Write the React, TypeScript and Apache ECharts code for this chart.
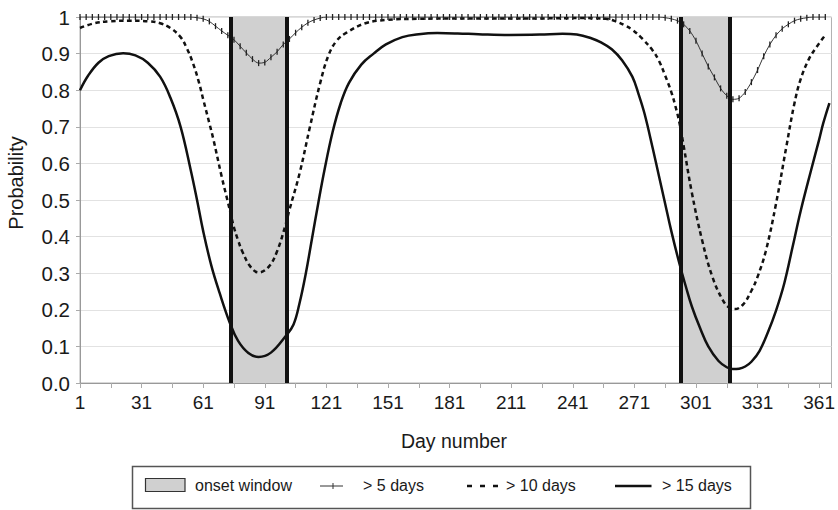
import React, { useEffect, useRef } from "react";
import * as echarts from "echarts";

// Onset windows (day ranges)
const onsetWindows: [number, number][] = [
  [74.5, 101.7],
  [293.7, 317.7],
];

// > 5 days: one value every 3 days starting at day 1
const gt5FirstDay = 1;
const gt5DayStep = 3;
const gt5Values = [
  1, 1, 1, 1, 1, 1, 1, 1, 1, 1, 1, 1, 1, 1, 1, 1, 1, 1, 1,
  0.998, 0.995, 0.988, 0.975, 0.962, 0.95, 0.938, 0.92, 0.902, 0.885, 0.874,
  0.876, 0.89, 0.905, 0.925, 0.94, 0.957, 0.972, 0.984, 0.992, 0.997,
  1, 1, 1, 1, 1, 1, 1, 1, 1, 1, 1, 1, 1, 1, 1, 1, 1, 1, 1, 1, 1, 1, 1, 1, 1,
  1, 1, 1, 1, 1, 1, 1, 1, 1, 1, 1, 1, 1, 1, 1, 1, 1, 1, 1, 1, 1, 1, 1, 1, 1,
  1, 1, 1, 1, 1,
  0.998, 0.995, 0.99, 0.98, 0.962, 0.935, 0.9, 0.865, 0.835, 0.805, 0.785,
  0.775, 0.778, 0.795, 0.822, 0.855, 0.893, 0.925, 0.95, 0.968, 0.98, 0.99,
  0.995, 0.998,
  1, 1, 1,
];

// > 10 days
const gt10Days = [
  1, 8, 15, 25, 35, 40, 45, 50, 53, 56, 59, 61, 64, 66, 70, 73, 76, 78, 80, 84,
  88, 93, 97, 101, 103, 108, 113, 118, 122, 126, 131, 140, 150, 165, 190, 220,
  245, 257, 262, 266, 270, 275, 280, 283, 286, 289, 291, 293, 295, 299, 304,
  309, 314, 317, 320, 324, 328, 331, 335, 340, 345, 349, 352, 356, 360, 364,
];
const gt10Values = [
  0.97, 0.983, 0.988, 0.99, 0.988, 0.983, 0.97, 0.945, 0.915, 0.874, 0.82,
  0.775, 0.71, 0.665, 0.564, 0.495, 0.425, 0.39, 0.36, 0.318, 0.302, 0.318,
  0.36, 0.43, 0.473, 0.574, 0.7, 0.82, 0.895, 0.935, 0.958, 0.983, 0.992,
  0.995, 0.996, 0.996, 0.997, 0.995, 0.988, 0.978, 0.965, 0.94, 0.908, 0.88,
  0.84, 0.795, 0.756, 0.71, 0.648, 0.52, 0.39, 0.29, 0.227, 0.207, 0.202,
  0.215, 0.252, 0.29, 0.36, 0.49, 0.645, 0.765, 0.83, 0.885, 0.92, 0.951,
];

// > 15 days
const gt15Days = [
  1, 5, 10, 15, 22, 28, 34, 40, 45, 50, 55, 58, 61, 65, 69, 74, 78, 83, 88, 94,
  101, 105, 108, 111, 114, 117, 120, 124, 128, 132, 138, 144, 150, 158, 166,
  175, 185, 195, 210, 225, 236, 243, 250, 255, 260, 265, 270, 273, 276, 280,
  283, 286, 289, 293, 296, 299, 303, 307, 312, 316, 319, 322, 325, 328, 332,
  336, 340, 344, 348, 352, 357, 361, 363, 366,
];
const gt15Values = [
  0.8, 0.84, 0.875, 0.893, 0.901, 0.895, 0.875, 0.837, 0.78, 0.7, 0.58, 0.5,
  0.415, 0.32, 0.246, 0.164, 0.115, 0.082, 0.071, 0.083, 0.127, 0.16, 0.22,
  0.3, 0.395, 0.49, 0.58, 0.685, 0.765, 0.82, 0.87, 0.9, 0.925, 0.945, 0.953,
  0.956, 0.955, 0.953, 0.951, 0.952, 0.954, 0.952, 0.942, 0.93, 0.912, 0.882,
  0.837, 0.79, 0.735, 0.64, 0.565, 0.49, 0.415, 0.325, 0.265, 0.209, 0.15,
  0.1, 0.06, 0.043, 0.038, 0.039, 0.045, 0.058, 0.088, 0.138, 0.198, 0.272,
  0.37, 0.47, 0.58, 0.665, 0.71, 0.765,
];

const yTickLabels = ["0.0", "0.1", "0.2", "0.3", "0.4", "0.5", "0.6", "0.7", "0.8", "0.9", "1"];
const xLabelDays = [1, 31, 61, 91, 121, 151, 181, 211, 241, 271, 301, 331, 361];

const FONT = '"Liberation Sans", Arial, Helvetica, sans-serif';

export default function App() {
  const ref = useRef<HTMLDivElement>(null);

  useEffect(() => {
    const chart = echarts.init(ref.current!, null, { renderer: "svg" });

    const gt5Data = gt5Values.map((v, i) => [gt5FirstDay + i * gt5DayStep, v]);
    const gt10Data = gt10Days.map((d, i) => [d, gt10Values[i]]);
    const gt15Data = gt15Days.map((d, i) => [d, gt15Values[i]]);

    const legendY = 485.5;
    const textStyle = (text: string, x: number) => ({
      type: "text",
      x,
      y: legendY,
      silent: true,
      style: {
        text,
        fill: "#1a1a1a",
        font: `16px ${FONT}`,
        align: "left",
        verticalAlign: "middle",
        textAlign: "left",
        textVerticalAlign: "middle",
      },
    });

    chart.setOption({
      animation: false,
      backgroundColor: "#ffffff",
      textStyle: { fontFamily: FONT },
      grid: {
        left: 80,
        right: 5,
        top: 17,
        bottom: 127,
        show: true,
        borderColor: "#b0b0b0",
        borderWidth: 1,
        backgroundColor: "transparent",
      },
      xAxis: {
        type: "value",
        min: 1,
        max: 367,
        interval: 15,
        axisLine: { show: true, lineStyle: { color: "#999", width: 1 } },
        axisTick: { show: true, length: 5, lineStyle: { color: "#aaa" } },
        splitLine: { show: false },
        axisLabel: {
          color: "#1a1a1a",
          fontSize: 19,
          fontFamily: FONT,
          margin: 10,
          formatter: (v: number) => (xLabelDays.includes(Math.round(v)) ? String(Math.round(v)) : ""),
        },
      },
      yAxis: {
        type: "value",
        min: 0,
        max: 1,
        interval: 0.1,
        axisLine: { show: true, lineStyle: { color: "#999", width: 1 } },
        axisTick: { show: true, length: 4, lineStyle: { color: "#aaa" } },
        splitLine: { show: true, lineStyle: { color: "#e2e2e2", width: 1 } },
        axisLabel: {
          color: "#1a1a1a",
          fontSize: 20.5,
          fontFamily: FONT,
          margin: 10,
          formatter: (v: number) => yTickLabels[Math.round(v * 10)],
        },
      },
      series: [
        {
          name: "onset window",
          type: "line",
          data: [],
          z: 1,
          silent: true,
          markArea: {
            silent: true,
            itemStyle: { color: "#d0d0d0" },
            data: onsetWindows.map(([a, b]) => [{ xAxis: a }, { xAxis: b }]),
          },
        },
        {
          name: "> 5 days",
          type: "line",
          data: gt5Data,
          z: 3,
          smooth: 0.3,
          symbol: "rect",
          symbolSize: [1.3, 6],
          showSymbol: true,
          itemStyle: { color: "#222" },
          lineStyle: { color: "#333", width: 1 },
        },
        {
          name: "> 10 days",
          type: "line",
          data: gt10Data,
          z: 3,
          smooth: 0.4,
          showSymbol: false,
          symbol: "none",
          lineStyle: { color: "#111", width: 2.5, type: [4.5, 3.5] },
        },
        {
          name: "> 15 days",
          type: "line",
          data: gt15Data,
          z: 3,
          smooth: 0.4,
          showSymbol: false,
          symbol: "none",
          lineStyle: { color: "#111", width: 2.5 },
        },
        {
          name: "window edges",
          type: "line",
          data: [],
          z: 4,
          silent: true,
          markLine: {
            silent: true,
            symbol: "none",
            label: { show: false },
            lineStyle: { color: "#111", width: 4, type: "solid" },
            data: onsetWindows.flat().map((d) => ({ xAxis: d })),
          },
        },
      ],
      graphic: [
        {
          type: "text",
          x: 16,
          y: 183,
          rotation: Math.PI / 2,
          silent: true,
          style: {
            text: "Probability",
            fill: "#1a1a1a",
            font: `20px ${FONT}`,
            align: "center",
            verticalAlign: "middle",
            textAlign: "center",
            textVerticalAlign: "middle",
          },
        },
        {
          type: "text",
          x: 454,
          y: 441,
          silent: true,
          style: {
            text: "Day number",
            fill: "#1a1a1a",
            font: `19.5px ${FONT}`,
            align: "center",
            verticalAlign: "middle",
            textAlign: "center",
            textVerticalAlign: "middle",
          },
        },
        {
          type: "rect",
          silent: true,
          shape: { x: 132.5, y: 466.5, width: 618, height: 42 },
          style: { fill: "#fff", stroke: "#555", lineWidth: 1.5 },
        },
        {
          type: "rect",
          silent: true,
          shape: { x: 145.5, y: 478.5, width: 39.5, height: 13 },
          style: { fill: "#d0d0d0", stroke: "#333", lineWidth: 1.2 },
        },
        textStyle("onset window", 195),
        {
          type: "line",
          silent: true,
          shape: { x1: 320, y1: 486, x2: 343, y2: 486 },
          style: { stroke: "#333", lineWidth: 1 },
        },
        {
          type: "line",
          silent: true,
          shape: { x1: 333, y1: 483, x2: 333, y2: 489 },
          style: { stroke: "#333", lineWidth: 1 },
        },
        textStyle("> 5 days", 363),
        {
          type: "line",
          silent: true,
          shape: { x1: 467, y1: 486, x2: 498, y2: 486 },
          style: { stroke: "#111", lineWidth: 2.5, lineDash: [5, 8] },
        },
        textStyle("> 10 days", 506),
        {
          type: "line",
          silent: true,
          shape: { x1: 615, y1: 486, x2: 651.5, y2: 486 },
          style: { stroke: "#111", lineWidth: 2.5 },
        },
        textStyle("> 15 days", 662),
      ],
    });

    return () => chart.dispose();
  }, []);

  return (
    <div
      ref={ref}
      style={{ position: "fixed", left: 0, top: 0, width: 838, height: 510, background: "#fff" }}
    />
  );
}
